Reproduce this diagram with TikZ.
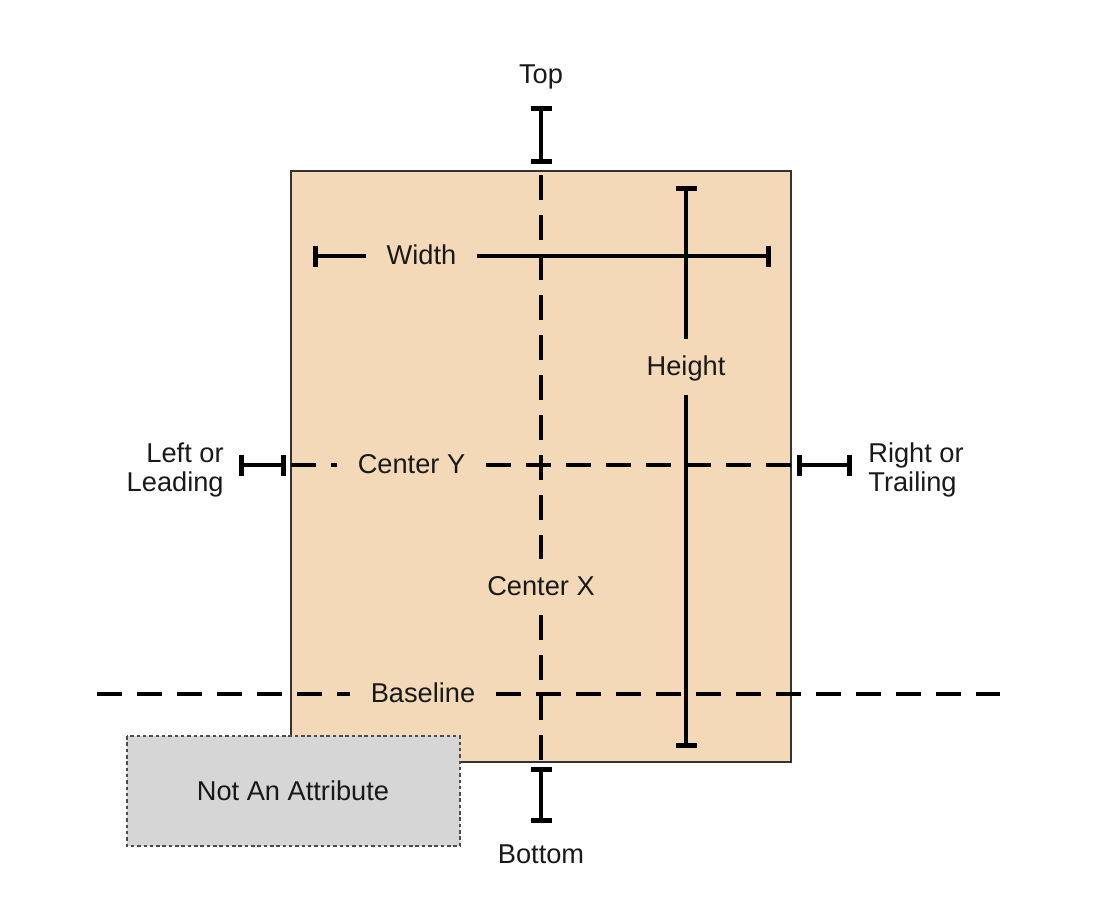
\documentclass[tikz,border=0pt]{standalone}
\usepackage{fontspec}
\setmainfont{Liberation Sans}
\usepackage{tikz}
\usetikzlibrary{arrows.meta}
\definecolor{viewFill}  {RGB}{244,217,185}
\definecolor{ghostFill} {RGB}{214,214,214}
\colorlet{ink}{black}
\tikzset{
  endbar/.tip={Bar[width=0.42cm]},
  measure/.style={line width=2.8pt, draw=ink},
  guide/.style={line width=2.8pt, draw=ink, dash pattern=on 0.5cm off 0.3cm},
  viewbox/.style={fill=viewFill, draw=black!80, line width=0.75pt},
  ghostbox/.style={fill=ghostFill, draw=black!70, line width=0.6pt,
    dash pattern=on 2pt off 1.6pt},
  attr/.style={font=\fontsize{15.5}{18}\selectfont, text=black!90,
    inner xsep=0.4cm, inner ysep=0.38cm,
    text height=0.95em, text depth=0.02em},
  sidelabel/.style={font=\fontsize{15.5}{16.5}\selectfont, text=black!90,
    inner sep=0pt},
}

\begin{document}
\begin{tikzpicture}[x=0.02cm, y=-0.02cm]
\useasboundingbox (0,0) rectangle (1114,910);
% the view and the box that is not an attribute
\path[viewbox] (291,171) rectangle (791,762);
\path[ghostbox] (127,736) rectangle (460,846);
\node[attr] (notattr) at (293,792) {Not An Attribute};
% end points
\coordinate (top-a) at (541,106);
\coordinate (top-b) at (541,164);
\coordinate (bot-a) at (541,767);
\coordinate (bot-b) at (541,823);
\coordinate (lead-a) at (239,465);
\coordinate (lead-b) at (286,465);
\coordinate (trail-a) at (797,465);
\coordinate (trail-b) at (852,465);
\coordinate (wd-a) at (313,256);
\coordinate (wd-b) at (771,256);
\coordinate (ht-a) at (686,186);
\coordinate (ht-b) at (686,748);
\coordinate (cx-a) at (541,175);
\coordinate (cx-b) at (541,762);
\coordinate (cy-a) at (291,465);
\coordinate (cy-b) at (791,465);
\coordinate (base-a) at (97,694);
\coordinate (base-b) at (1003,694);
% labels
\node[attr] (top) at (541,75) {Top};
\node[attr] (bottom) at (541,855) {Bottom};
\node[attr] (width) at (421.5,256) {Width};
\node[attr] (height) at (686,367) {Height};
\node[attr] (centerx) at (541,587) {Center X};
\node[attr] (centery) at (411.5,465) {Center Y};
\node[attr] (baseline) at (423,694) {Baseline};
\node[sidelabel, align=right, anchor=east] (leading) at (224,470)
  {Left or\\Leading};
\node[sidelabel, align=left, anchor=west] (trailing) at (868,470)
  {Right or\\Trailing};
% dashed guides
\draw[guide] (cx-a) -- (centerx.north);
\draw[guide] (centerx.south) -- (cx-b);
\draw[guide] (cy-a) -- (centery.west);
\draw[guide] (centery.east) -- (cy-b);
\draw[guide] (base-a) -- (baseline.west);
\draw[guide] (baseline.east) -- (base-b);
% measures
\draw[measure, endbar-endbar] (top-a) -- (top-b);
\draw[measure, endbar-endbar] (bot-a) -- (bot-b);
\draw[measure, endbar-endbar] (lead-a) -- (lead-b);
\draw[measure, endbar-endbar] (trail-a) -- (trail-b);
\draw[measure, endbar-] (wd-a) -- (width.west);
\draw[measure, -endbar] (width.east) -- (wd-b);
\draw[measure, endbar-] (ht-a) -- (height.north);
\draw[measure, -endbar] (height.south) -- (ht-b);
\end{tikzpicture}
\end{document}
